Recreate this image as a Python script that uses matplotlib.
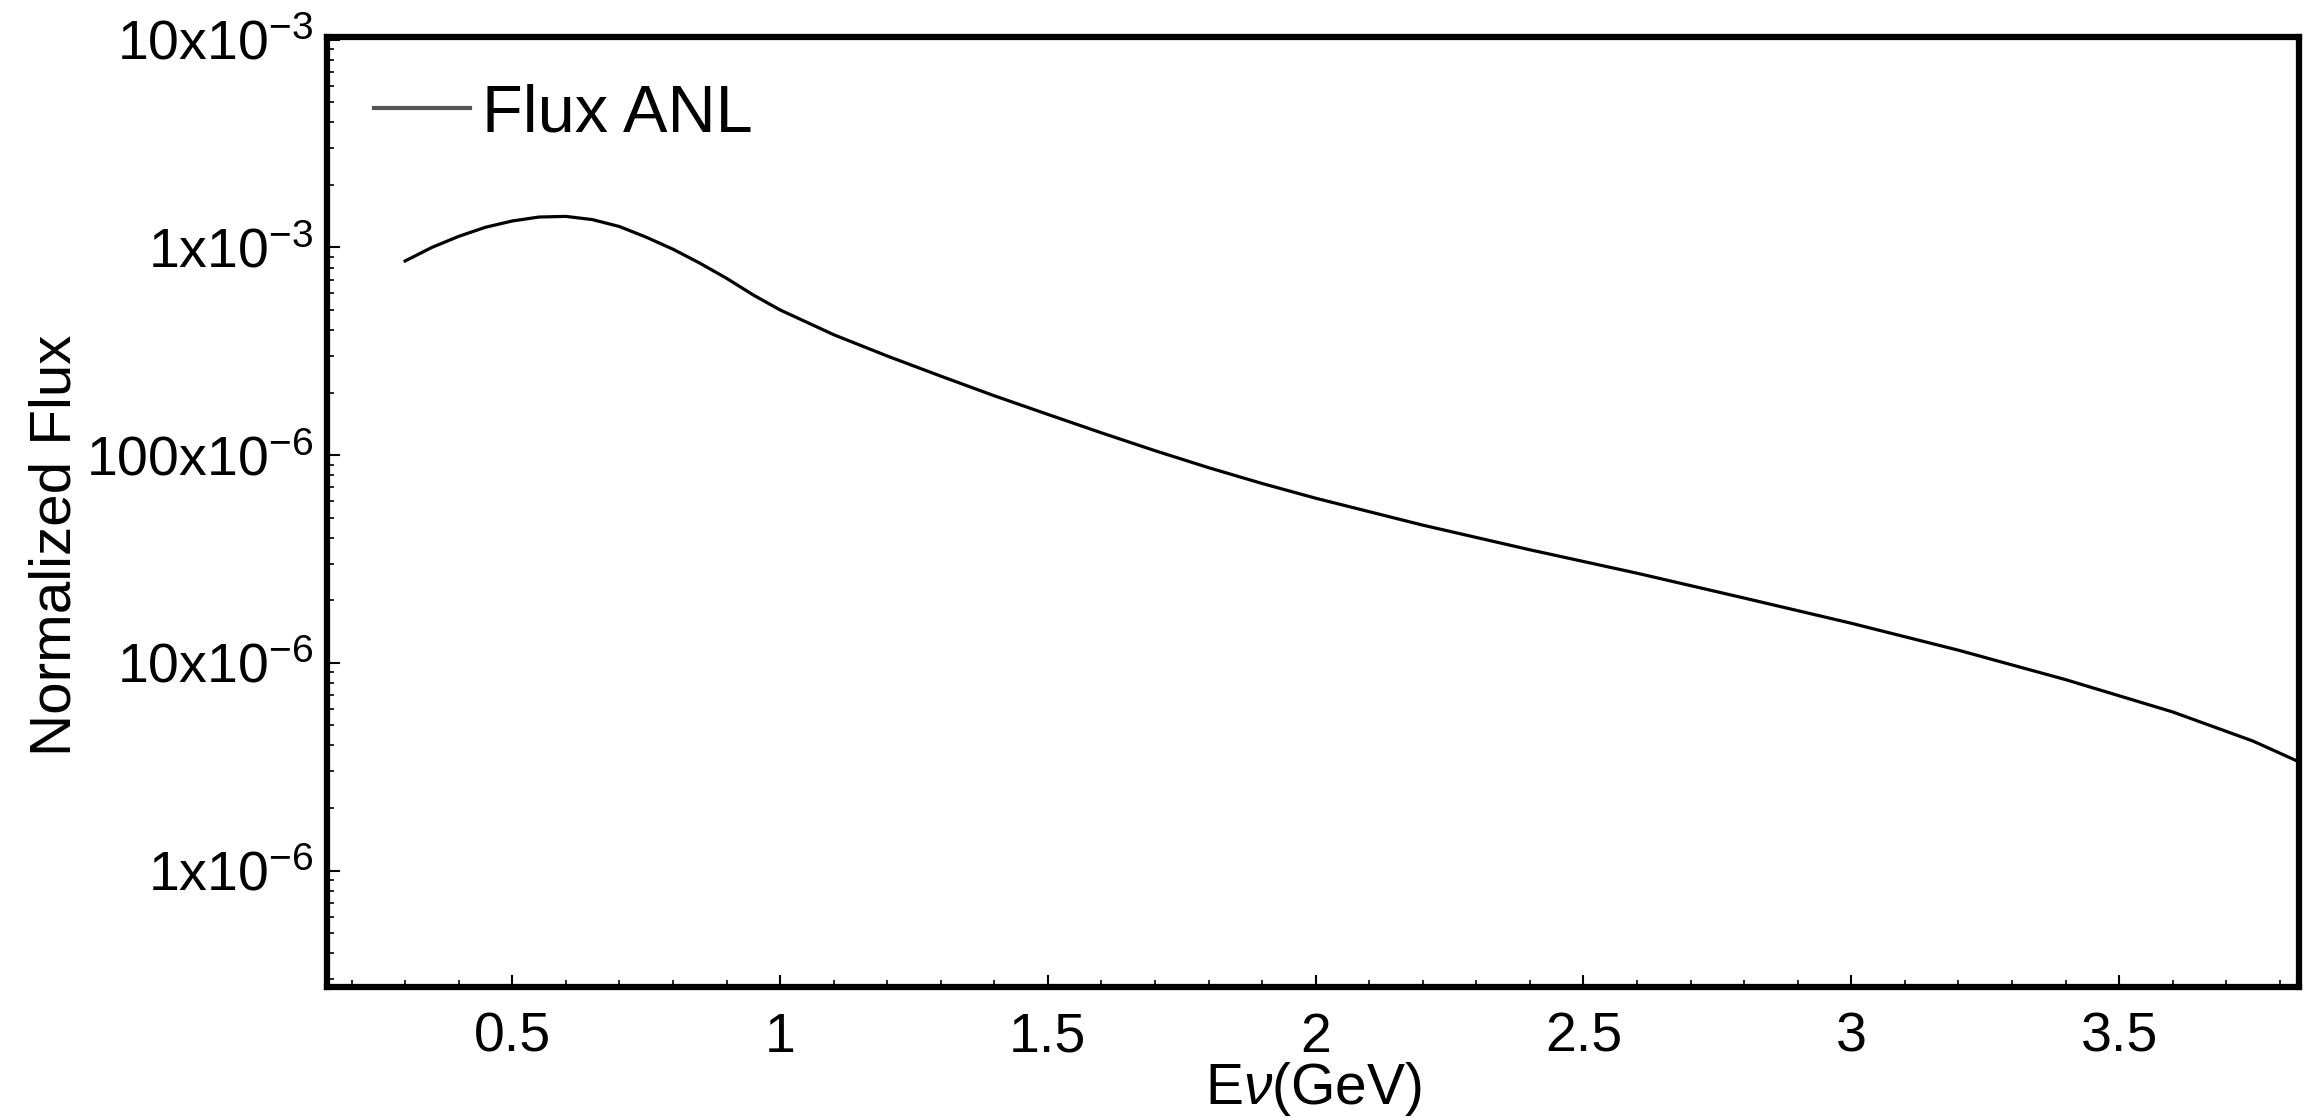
import matplotlib
matplotlib.use("Agg")
import matplotlib.pyplot as plt
from matplotlib.ticker import (FixedLocator, FixedFormatter, LogLocator,
                               MultipleLocator, NullFormatter)
import numpy as np

# Data
energy_gev = [0.30, 0.35, 0.40, 0.45, 0.50, 0.55, 0.60, 0.65, 0.70, 0.75, 0.80,
              0.85, 0.90, 0.95, 1.00, 1.10, 1.20, 1.30, 1.40, 1.50, 1.60, 1.70,
              1.80, 1.90, 2.00, 2.20, 2.40, 2.60, 2.80, 3.00, 3.20, 3.40, 3.60,
              3.75, 3.84]
flux_anl = [8.6e-4, 1.0e-3, 1.13e-3, 1.25e-3, 1.34e-3, 1.40e-3, 1.41e-3, 1.36e-3,
            1.26e-3, 1.12e-3, 9.8e-4, 8.4e-4, 7.1e-4, 5.9e-4, 5.0e-4, 3.8e-4,
            3.0e-4, 2.4e-4, 1.93e-4, 1.57e-4, 1.28e-4, 1.05e-4, 8.7e-5, 7.3e-5,
            6.2e-5, 4.6e-5, 3.5e-5, 2.7e-5, 2.05e-5, 1.55e-5, 1.15e-5, 8.3e-6,
            5.8e-6, 4.2e-6, 3.3e-6]
xtick_vals = [0.5, 1, 1.5, 2, 2.5, 3, 3.5]
xtick_labels = ["0.5", "1", "1.5", "2", "2.5", "3", "3.5"]
ytick_vals = [1e-6, 1e-5, 1e-4, 1e-3, 1e-2]
ytick_labels = ["1x10$^{-6}$", "10x10$^{-6}$", "100x10$^{-6}$", "1x10$^{-3}$", "10x10$^{-3}$"]

FONT = ["Liberation Sans Narrow", "Liberation Sans", "DejaVu Sans"]
plt.rcParams["font.family"] = FONT
plt.rcParams["mathtext.fontset"] = "custom"
plt.rcParams["mathtext.rm"] = "Liberation Sans"
plt.rcParams["mathtext.it"] = "Liberation Sans:italic"
plt.rcParams["mathtext.default"] = "regular"

fig = plt.figure(figsize=(23.09, 11.18), dpi=100)
ax = fig.add_axes([0.1416, 0.1172, 0.9957 - 0.1416, 0.9669 - 0.1172])

ax.plot(energy_gev, flux_anl, color="black", lw=2.3, label="Flux ANL")
ax.set_yscale("log")
ax.set_xlim(0.154, 3.836)
ax.set_ylim(2.75e-7, 1.03e-2)

ax.xaxis.set_major_locator(FixedLocator(xtick_vals))
ax.xaxis.set_major_formatter(FixedFormatter(xtick_labels))
ax.xaxis.set_minor_locator(MultipleLocator(0.1))
ax.yaxis.set_major_locator(FixedLocator(ytick_vals))
ax.yaxis.set_major_formatter(FixedFormatter(ytick_labels))
ax.yaxis.set_minor_locator(LogLocator(base=10, subs=np.arange(2, 10) * 1.0, numticks=20))
ax.yaxis.set_minor_formatter(NullFormatter())

ax.tick_params(axis="both", which="major", direction="in", length=9, width=1.5,
               labelsize=40, top=False, right=False)
ax.tick_params(axis="x", which="major", pad=18)
ax.tick_params(axis="y", which="major", pad=10)
ax.tick_params(axis="both", which="minor", direction="in", length=5, width=1.2,
               top=False, right=False)

for sp in ax.spines.values():
    sp.set_linewidth(4.5)

ax.set_xlabel("E$\\mathit{\\nu}$(GeV)", fontsize=41, labelpad=-3)
ax.set_ylabel("Normalized Flux", fontsize=42)
ax.yaxis.set_label_coords(-0.124, 0.465)

leg = ax.legend(loc="upper left", frameon=False, fontsize=48,
                handlelength=1.45, handletextpad=0.18, borderaxespad=0.3)
for h in leg.get_lines():
    h.set_color("#555555")
    h.set_linewidth(3)

fig.savefig("out.png", dpi=100, facecolor="white")
